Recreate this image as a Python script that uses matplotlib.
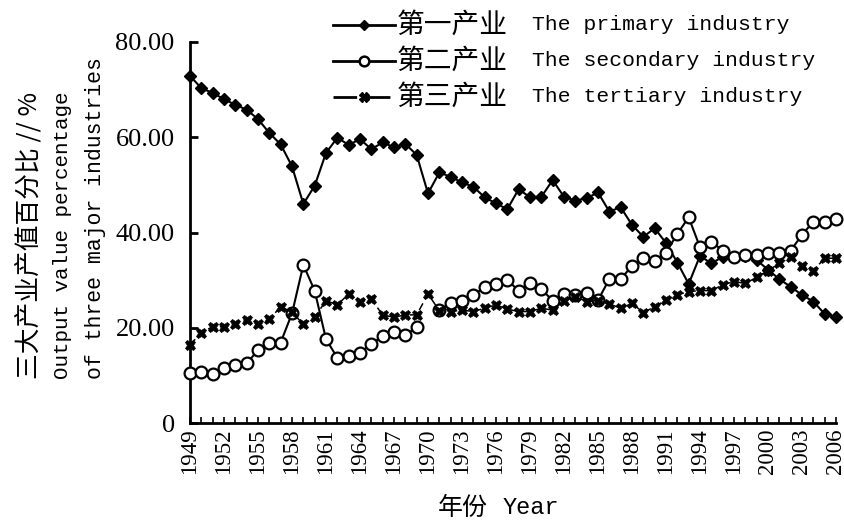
import numpy as np
import matplotlib
matplotlib.use("Agg")
import matplotlib.pyplot as plt
from matplotlib.lines import Line2D

nan = np.nan
years = list(range(1949, 2007))
primary = [72.9, 70.3, 69.3, 68.0, 66.8, 65.8, 63.8, 60.9, 58.5, 53.9,
           46.0, 49.8, 56.7, 59.9, 58.4, 59.6, 57.5, 58.9, 57.9, 58.6,
           56.3, 48.2, 52.6, 51.7, 50.5, 49.6, 47.4, 46.1, 44.9, 49.1,
           47.4, 47.5, 51.0, 47.5, 46.7, 47.2, 48.4, 44.4, 45.3, 41.6,
           39.1, 40.9, 37.8, 33.7, 29.2, 35.1, 33.5, 34.9, 34.9, 35.0,
           34.2, 32.2, 30.2, 28.6, 26.9, 25.5, 22.9, 22.3]
secondary = [10.4, 10.8, 10.3, 11.5, 12.2, 12.5, 15.3, 16.9, 16.9, 23.0,
             33.2, 27.8, 17.6, 13.7, 14.1, 14.8, 16.5, 18.3, 19.2, 18.5,
             20.1, nan, 23.8, 25.1, 25.7, 26.9, 28.5, 29.2, 30.0, 27.8,
             29.5, 28.1, 25.7, 27.1, 26.8, 27.3, 25.8, 30.2, 30.2, 33.0,
             34.6, 34.1, 35.8, 39.7, 43.2, 36.9, 38.1, 36.2, 34.9, 35.3,
             35.3, 35.8, 35.8, 36.2, 39.5, 42.3, 42.1, 42.8]
tertiary = [16.4, 19.0, 20.2, 20.2, 20.8, 21.6, 20.7, 21.8, 24.4, 23.3,
            20.7, 22.2, 25.7, 24.8, 27.1, 25.5, 26.0, 22.7, 22.2, 22.7,
            22.7, 27.1, 23.6, 23.4, 23.7, 23.4, 24.1, 24.8, 23.9, 23.4,
            23.4, 24.1, 23.7, 25.7, 26.5, 25.5, 25.7, 25.0, 24.1, 25.1,
            23.2, 24.4, 25.8, 26.9, 27.6, 27.8, 27.8, 29.0, 29.7, 29.3,
            30.6, 32.0, 33.5, 34.8, 33.0, 32.0, 34.6, 34.6]
labels_cn = ["第一产业", "第二产业", "第三产业"]
labels_en = ["The primary industry", "The secondary industry",
             "The tertiary industry"]
xtick_years = list(range(1949, 2007, 3))
ytick_vals = [0, 20, 40, 60, 80]
ytick_labels = ["0", "20.00", "40.00", "60.00", "80.00"]
ylabel_lines = ["三大产业产值百分比 // %", "Output value percentage",
                "of three major industries"]
xlabel_cn = "年份"
xlabel_en = "Year"

MONO = ["Liberation Mono", "Noto Sans CJK SC"]
SERIF = ["Liberation Serif", "Noto Sans CJK SC"]
CJK = ["Noto Sans CJK SC", "Liberation Mono"]

W, H = 845, 528
fig = plt.figure(figsize=(W / 100, H / 100), dpi=100)
ax = fig.add_axes([190 / W, 1 - 423 / H, (836 - 190) / W, (423 - 42) / H])

styles = [
    dict(color="black", lw=1.5, marker="D", ms=6.5, mfc="black", mec="black"),
    dict(color="black", lw=1.5, marker="o", ms=8.5, mfc="white", mec="black", mew=1.6),
    dict(color="black", lw=1.1, ls=(0, (5, 3)), marker="X", ms=7.5, mfc="black",
         mec="black", mew=0.5),
]
for vals, st, z in zip([primary, secondary, tertiary], styles, [3, 4, 5]):
    ax.plot(years, vals, clip_on=False, zorder=z, **st)

ax.set_xlim(1949, 2006)
ax.set_ylim(0, 80)
for s in ["top", "right"]:
    ax.spines[s].set_visible(False)
for s in ["left", "bottom"]:
    ax.spines[s].set_linewidth(2.0)

ax.set_xticks(years, minor=True)
ax.set_xticks(xtick_years)
ax.set_xticklabels([str(y) for y in xtick_years], rotation=90,
                   fontfamily=SERIF, fontsize=16.5)
ax.tick_params(axis="x", which="both", direction="in", length=4, width=1.2, pad=4)
ax.set_yticks(ytick_vals)
ax.set_yticklabels(ytick_labels, fontfamily=SERIF, fontsize=19)
ax.tick_params(axis="y", direction="in", length=6, width=2, pad=11)

# y label (three rotated lines)
ylab_x = [30, 63, 96]
ylab_fonts = [(CJK, 18.5), (MONO, 15), (MONO, 15.5)]
for x, t, (fam, sz) in zip(ylab_x, ylabel_lines, ylab_fonts):
    fig.text(x / W, 1 - 379 / H, t, rotation=90, ha="center", va="bottom",
             fontfamily=fam, fontsize=sz)

# x label
fig.text(438 / W, 1 - 508 / H, xlabel_cn, ha="left", va="center",
         fontfamily=CJK, fontsize=18)
fig.text(503 / W, 1 - 508 / H, xlabel_en, ha="left", va="center",
         fontfamily=MONO, fontsize=17)

# legend (drawn by hand for exact placement)
rows_y = [25, 61, 97]
leg_handles = [
    dict(color="black", lw=2, marker="D", ms=5, mfc="black"),
    dict(color="black", lw=2, marker="o", ms=7, mfc="white", mew=1.8),
    dict(color="black", lw=2, ls=(0, (8.5, 3.5)), marker="X", ms=6.5, mfc="black"),
]
for ry, hs, cn, en in zip(rows_y, leg_handles, labels_cn, labels_en):
    yf = 1 - ry / H
    fig.add_artist(Line2D([333 / W, 395 / W], [yf, yf], transform=fig.transFigure,
                          markevery=[], **hs))
    fig.add_artist(Line2D([364 / W], [yf], transform=fig.transFigure,
                          ls="none", **{k: v for k, v in hs.items() if k not in ("ls", "lw")}))
    fig.text(397 / W, yf, cn, ha="left", va="center", fontfamily=CJK, fontsize=20)
    fig.text(532 / W, yf, en, ha="left", va="center", fontfamily=MONO, fontsize=15.4)

fig.savefig("out.png", dpi=100)
